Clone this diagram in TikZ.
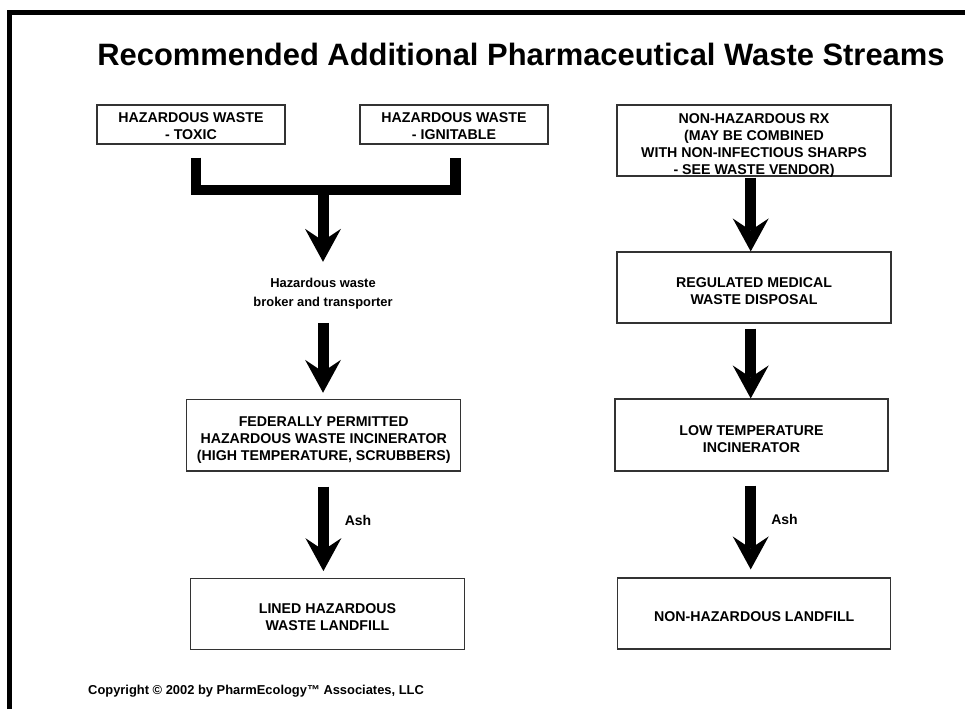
\documentclass[tikz,border=0pt]{standalone}
\usepackage{fontspec}
\setmainfont{Liberation Sans}
\usetikzlibrary{arrows.meta,calc}
\begin{document}
\begin{tikzpicture}[x=1pt,y=1pt,
  box/.style={draw=black!80, line width=1.2pt, inner sep=0pt},
  txt/.style={inner sep=0pt, align=center, font=\fontsize{14.2}{17.2}\selectfont\bfseries},
  fat/.style={line width=11pt, -{Stealth[length=33pt,width=36pt,inset=12pt,line width=0pt]}},
  bar/.style={line width=10.5pt, line join=miter},
  lbl/.style={font=\fontsize{14}{17}\selectfont\bfseries, inner sep=0pt}]
\useasboundingbox (0,0) rectangle (965,-709);
\fill[white] (0,0) rectangle (965,-709);
% frame
\draw[line width=5pt, line join=miter] (9.8,-709) -- (9.8,-12.5) -- (965,-12.5);
% title
\node[font=\fontsize{30.9}{36}\selectfont\bfseries, anchor=base, inner sep=0pt] (title) at (521,-65)
  {Recommended Additional Pharmaceutical Waste Streams};
% boxes
\node[box, minimum width=188pt, minimum height=39pt] (b1) at (191,-124.5) {};
\node[txt] (b1t) at ($(b1)+(0,-1.5)$) {HAZARDOUS WASTE\\- TOXIC};
\node[box, minimum width=188pt, minimum height=39pt] (b2) at (454,-124.5) {};
\node[txt] (b2t) at ($(b2)+(0,-1.5)$) {HAZARDOUS WASTE\\- IGNITABLE};
\node[box, minimum width=274pt, minimum height=71pt] (b3) at (754,-140.5) {};
\node[txt] (b3t) at ($(b3)+(0,-5)$)
  {NON-HAZARDOUS RX\\(MAY BE COMBINED\\WITH NON-INFECTIOUS SHARPS\\- SEE WASTE VENDOR)};
\node[box, minimum width=274pt, minimum height=71pt] (b4) at (754,-287.5) {};
\node[txt] (b4t) at ($(b4)+(0,-4)$) {REGULATED MEDICAL\\WASTE DISPOSAL};
\node[box, minimum width=273pt, minimum height=72pt] (b5) at (751.5,-435) {};
\node[txt] (b5t) at ($(b5)+(0,-4)$) {LOW TEMPERATURE\\INCINERATOR};
\node[box, minimum width=273pt, minimum height=71pt] (b6) at (754.2,-613.5) {};
\node[txt] (b6t) at ($(b6)+(0,-3)$) {NON-HAZARDOUS LANDFILL};
\node[box, minimum width=274pt, minimum height=71.7pt] (b7) at (323.7,-435.2) {};
\node[txt] (b7t) at ($(b7)+(0,-5)$)
  {FEDERALLY PERMITTED\\HAZARDOUS WASTE INCINERATOR\\(HIGH TEMPERATURE, SCRUBBERS)};
\node[box, minimum width=273.6pt, minimum height=71pt] (b8) at (327.5,-613.8) {};
\node[txt] (b8t) at ($(b8)+(0,-3.5)$) {LINED HAZARDOUS\\WASTE LANDFILL};
% labels
\node[lbl, align=center, minimum height=46pt, font=\fontsize{12.9}{19}\selectfont\bfseries] (broker) at (323,-294)
  {Hazardous waste\\broker and transporter};
\node[lbl] (ash1) at (358,-520) {Ash};
\node[lbl] (ash2) at (784.5,-519) {Ash};
\node[anchor=base west, inner sep=0pt, font=\fontsize{12.9}{15}\selectfont\bfseries] (copy) at (88,-694)
  {Copyright © 2002 by PharmEcology™ Associates, LLC};
% bracket
\coordinate (jm) at (323,-190);
\draw[bar] ($(b1.south)+(5,-13)$) |- (jm) -| ($(b2.south)+(1.5,-13)$);
\draw[fat] (jm) -- ($(broker.north)+(0,9)$);
% left column arrows
\draw[fat] ($(broker.south)+(0,-5.7)$) -- ($(broker.south |- b7.north)+(0,6)$);
\draw[fat] ($(b7.south)+(-0.3,-15)$) -- ($(b7.south |- b8.north)+(-0.3,6.6)$);
% right column arrows
\draw[fat] ($(b3.south)+(-3.3,-1)$) -- ($(b4.north)+(-3.3,0)$);
\draw[fat] ($(b4.south)+(-3.3,-5)$) -- ($(b5.north)+(-0.8,0)$);
\draw[fat] ($(b5.south)+(-0.8,-14)$) -- ($(b6.north)+(-3.5,8)$);
\end{tikzpicture}
\end{document}
